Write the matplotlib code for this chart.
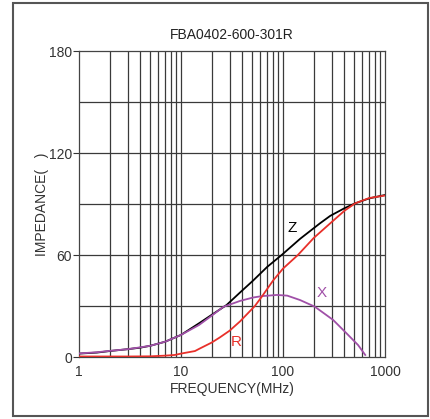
import matplotlib.pyplot as plt
from matplotlib.patches import Rectangle

plt.rcParams['font.family'] = ['Liberation Sans', 'DejaVu Sans']

# values (frequency in MHz, impedance in ohm)
z_freq = [1, 1.5, 2, 3, 4, 5, 7, 10, 15, 20, 28, 38, 51, 70, 97, 147, 230, 290, 400, 510, 700, 1000]
z_val = [2.0, 2.6, 3.5, 4.6, 5.5, 6.6, 9.0, 13.0, 19.8, 24.8, 30.6, 38.0, 45.0, 53.0, 60.0, 69.5,
         78.6, 83.0, 87.5, 90.4, 93.3, 95.3]

r_freq = [1, 3, 5, 7, 8.7, 10, 13.7, 15.3, 20, 24, 30, 38, 53, 62, 80, 100, 140, 200, 290, 400,
          510, 700, 1000]
r_val = [0.3, 0.3, 0.4, 0.8, 1.2, 2.0, 3.5, 5.0, 8.5, 11.5, 15.5, 21.0, 30.0, 35.5, 45.0, 52.0,
         60.0, 70.0, 78.6, 86.0, 90.4, 93.5, 95.0]

x_freq = [1, 1.5, 2, 3, 4, 5, 7, 10, 15, 20, 26, 38, 51, 62, 87, 110, 147, 205, 310, 420, 545, 640]
x_val = [2.1, 2.8, 3.6, 4.6, 5.7, 6.6, 9.0, 13.0, 18.8, 24.3, 29.5, 33.0, 35.0, 35.8, 36.5, 36.1,
         33.5, 29.6, 21.8, 13.9, 7.0, 1.2]

y_ticks = [0, 60, 120, 180]
x_ticks = [1, 10, 100, 1000]

fig = plt.figure(figsize=(4.30, 4.19), dpi=100)
fig.patches.append(Rectangle((13 / 430, 3 / 419), 415 / 430, 413 / 419,
                             transform=fig.transFigure, fill=False,
                             edgecolor='#555555', linewidth=1.5))

ax = fig.add_axes([79 / 430, 62 / 419, 306 / 430, 306 / 419])
ax.set_xscale('log')
ax.set_xlim(1, 1000)
ax.set_ylim(0, 180)

# grid: every log minor line plus every 30 ohm
grid_c = '#3a3a3a'
for dec in [1, 10, 100]:
    for k in range(2, 10):
        ax.axvline(dec * k, color=grid_c, linewidth=0.9, zorder=1)
for f in [10, 100]:
    ax.axvline(f, color=grid_c, linewidth=0.9, zorder=1)
for v in range(30, 180, 30):
    ax.axhline(v, color=grid_c, linewidth=0.9, zorder=1)

ax.plot(z_freq, z_val, color='black', linewidth=1.3, zorder=2)
ax.plot(x_freq, x_val, color='#a050a8', linewidth=1.3, zorder=3)
ax.plot(r_freq, r_val, color='#e8302a', linewidth=1.3, zorder=4)

ax.text(122, 76, 'Z', color='black', fontsize=11, ha='center', va='center')
ax.text(35, 9, 'R', color='#e8302a', fontsize=11, ha='center', va='center')
ax.text(240, 37.5, 'X', color='#a050a8', fontsize=11, ha='center', va='center')

ax.set_xticks(x_ticks)
ax.set_xticklabels([str(t) for t in x_ticks])
ax.xaxis.set_minor_locator(plt.NullLocator())
ax.set_yticks(y_ticks)
ax.tick_params(axis='x', length=0, labelsize=10, pad=6, colors='#333333')
ax.tick_params(axis='y', length=4, labelsize=10, pad=1, colors='#333333')
for s in ax.spines.values():
    s.set_color('#444444')
    s.set_linewidth(0.9)

ax.set_title('FBA0402-600-301R', fontsize=10, color='#222222', pad=9)
ax.set_xlabel('FREQUENCY(MHz)', fontsize=10, color='#333333', labelpad=2)
ax.set_ylabel('IMPEDANCE(   )', fontsize=10, color='#333333', labelpad=0)

fig.savefig('out.png', dpi=100)
